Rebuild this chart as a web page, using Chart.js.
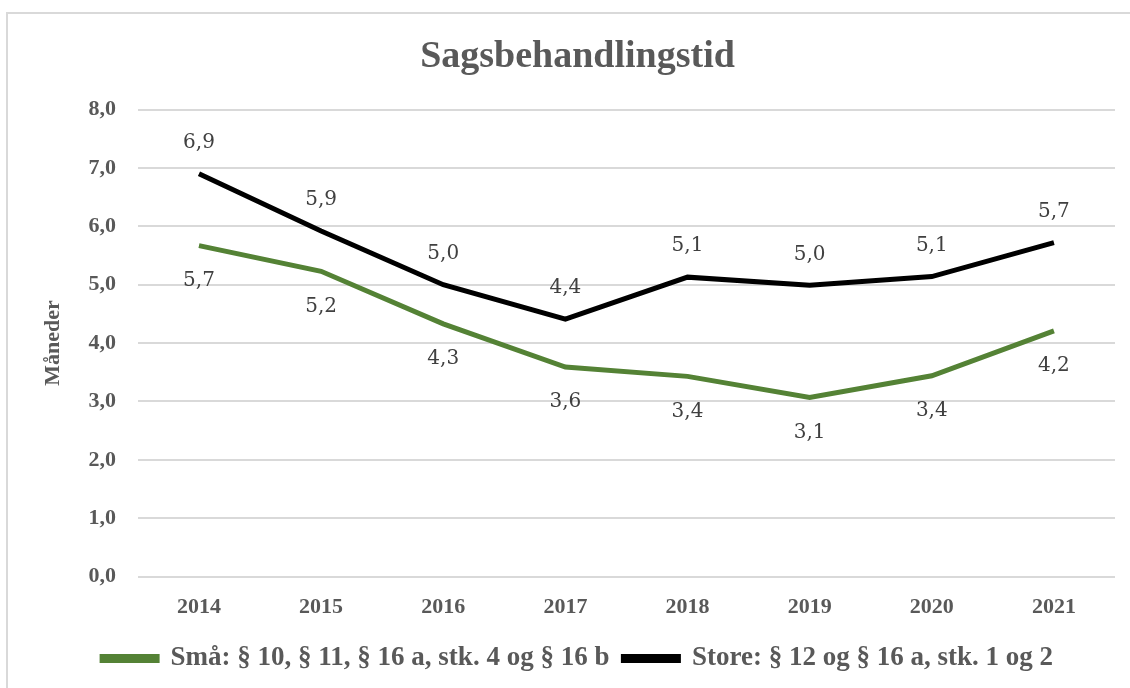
<!DOCTYPE html>
<html>
<head>
<meta charset="utf-8">
<script src="https://cdn.jsdelivr.net/npm/chart.js@4/dist/chart.umd.min.js"></script>
<style>
  html, body { margin: 0; padding: 0; background: #fff; overflow: hidden; }
  #frame { position: absolute; left: 6px; top: 12px; width: 1200px; height: 720px; border: 2px solid #d9d9d9; box-sizing: border-box; }
  #wrap { position: absolute; left: 0; top: 0; width: 1130px; height: 688px; }
</style>
</head>
<body>
<div id="frame"></div>
<div id="wrap"><canvas id="chart" width="1130" height="688"></canvas></div>
<script>
// categories and series
const years = ['2014', '2015', '2016', '2017', '2018', '2019', '2020', '2021'];
const smaa = [5.67, 5.23, 4.33, 3.59, 3.43, 3.07, 3.44, 4.21];
const store = [6.90, 5.92, 5.00, 4.41, 5.13, 4.99, 5.14, 5.72];
const seriesNames = ['Små: § 10, § 11, § 16 a, stk. 4 og § 16 b', 'Store: § 12 og § 16 a, stk. 1 og 2'];

const GREEN = '#548235';
const TEXT = '#595959';
const SERIF = '"Liberation Serif", "DejaVu Serif", serif';

const fmt = v => v.toFixed(1).replace('.', ',');

// draws the value labels: black series above, green series below
const valueLabels = {
  id: 'valueLabels',
  afterDatasetsDraw(chart) {
    const ctx = chart.ctx;
    ctx.save();
    ctx.font = '20px "DejaVu Serif", serif';
    ctx.fillStyle = '#404040';
    ctx.textAlign = 'center';
    ctx.textBaseline = 'middle';
    chart.data.datasets.forEach((ds, i) => {
      const meta = chart.getDatasetMeta(i);
      meta.data.forEach((pt, j) => {
        const dy = i === 1 ? -31 : 35;
        ctx.fillText(fmt(ds.data[j]), pt.x, pt.y + dy);
      });
    });
    ctx.restore();
  }
};

new Chart(document.getElementById('chart'), {
  type: 'line',
  data: {
    labels: years,
    datasets: [
      { label: seriesNames[0], data: smaa, borderColor: GREEN, backgroundColor: GREEN, borderWidth: 5, pointRadius: 0, tension: 0 },
      { label: seriesNames[1], data: store, borderColor: '#000', backgroundColor: '#000', borderWidth: 5, pointRadius: 0, tension: 0 }
    ]
  },
  options: {
    responsive: false,
    animation: false,
    layout: { padding: { left: 40, right: 15, top: 20, bottom: 6 } },
    plugins: {
      title: {
        display: true,
        text: 'Sagsbehandlingstid',
        color: TEXT,
        font: { family: SERIF, size: 38, weight: 'bold' },
        padding: { top: 14, bottom: 30 }
      },
      legend: {
        position: 'bottom',
        labels: {
          color: TEXT,
          font: { family: SERIF, size: 27, weight: 'bold' },
          boxWidth: 55,
          boxHeight: 4,
          padding: 14
        }
      },
      tooltip: { enabled: false }
    },
    scales: {
      x: {
        offset: true,
        grid: { display: false },
        border: { display: false },
        ticks: { color: TEXT, font: { family: SERIF, size: 22, weight: 'bold' }, padding: 10 }
      },
      y: {
        min: 0,
        max: 8,
        ticks: { stepSize: 1, color: TEXT, font: { family: SERIF, size: 22, weight: 'bold' }, padding: 22, callback: v => fmt(v) },
        grid: { color: '#d9d9d9', lineWidth: 2, drawTicks: false },
        border: { display: false },
        title: { display: true, text: 'Måneder', color: TEXT, font: { family: SERIF, size: 22, weight: 'bold' }, padding: 0 }
      }
    }
  },
  plugins: [valueLabels]
});
</script>
</body>
</html>
